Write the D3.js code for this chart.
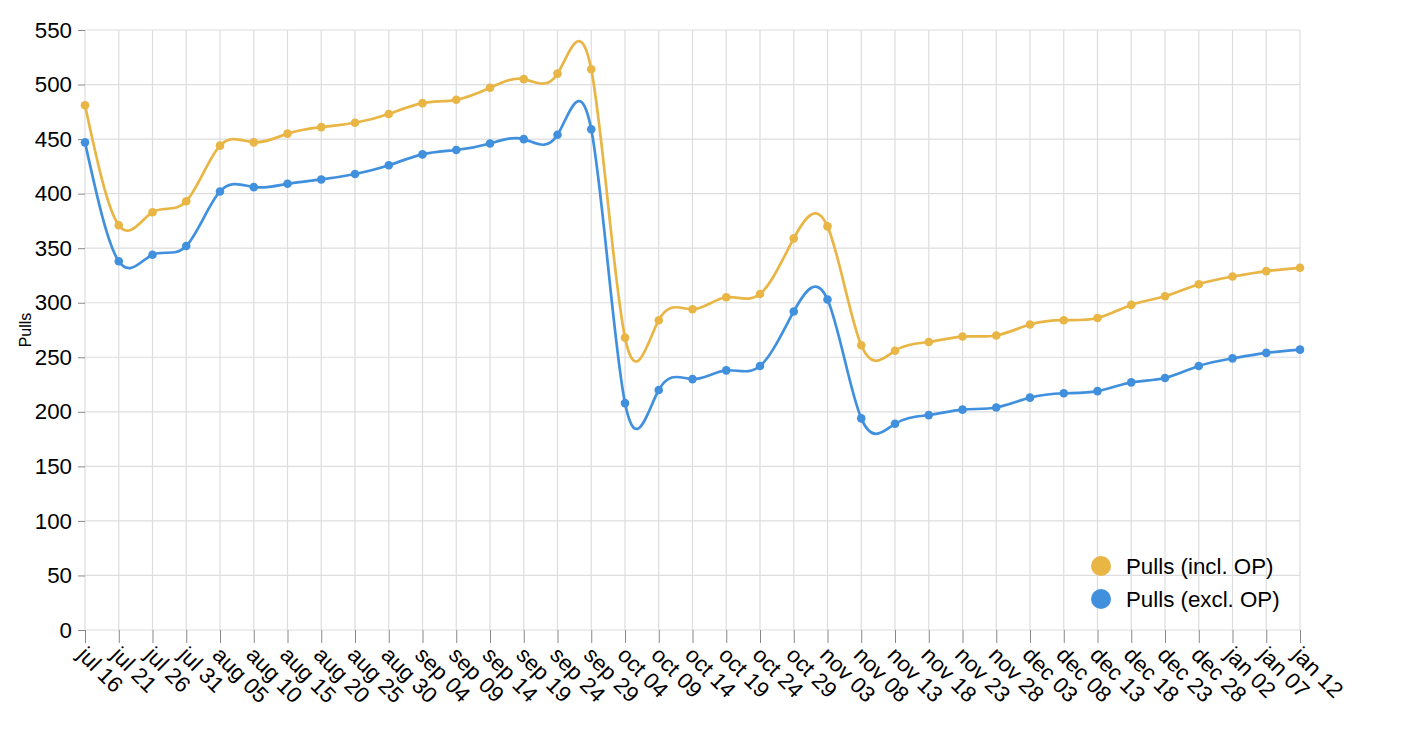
<!DOCTYPE html>
<html>
<head>
<meta charset="utf-8">
<script src="https://cdn.jsdelivr.net/npm/d3@7"></script>
<style>
  html, body { margin: 0; padding: 0; background: #fff; }
  svg { display: block; font-family: "Liberation Sans", Arial, sans-serif; }
</style>
</head>
<body>
<svg id="chart" width="1422" height="730"></svg>
<script>
const dates = ["jul 16","jul 21","jul 26","jul 31","aug 05","aug 10","aug 15","aug 20","aug 25","aug 30",
  "sep 04","sep 09","sep 14","sep 19","sep 24","sep 29","oct 04","oct 09","oct 14","oct 19","oct 24","oct 29",
  "nov 03","nov 08","nov 13","nov 18","nov 23","nov 28","dec 03","dec 08","dec 13","dec 18","dec 23","dec 28",
  "jan 02","jan 07","jan 12"];
const pullsInclOP = [481,371,383,393,444,447,455,461,465,473,483,486,497,505,510,514,268,284,294,305,308,359,
  370,261,256,264,269,270,280,284,286,298,306,317,324,329,332];
const pullsExclOP = [447,338,344,352,402,406,409,413,418,426,436,440,446,450,454,459,208,220,230,238,242,292,
  303,194,189,197,202,204,213,217,219,227,231,242,249,254,257];
const yTicks = [0,50,100,150,200,250,300,350,400,450,500,550];
const seriesNames = ["Pulls (incl. OP)", "Pulls (excl. OP)"];
const seriesColors = ["#E9B545", "#4190DE"];

const svg = d3.select("#chart");
const mLeft = 85, mRight = 1300, mTop = 30, mBottom = 630;
const fs = 22.3;

const x = d3.scalePoint().domain(dates).range([mLeft, mRight]).padding(0);
const y = d3.scaleLinear().domain([0, 550]).range([mBottom, mTop]);

// grid
const grid = svg.append("g");
grid.selectAll("line.h").data(yTicks).join("line")
  .attr("x1", mLeft).attr("x2", mRight)
  .attr("y1", d => y(d)).attr("y2", d => y(d))
  .attr("stroke", "#dddddd").attr("stroke-width", 1.2);
grid.selectAll("line.v").data(dates).join("line")
  .attr("x1", d => x(d)).attr("x2", d => x(d))
  .attr("y1", mTop).attr("y2", mBottom)
  .attr("stroke", "#dddddd").attr("stroke-width", 1.2);

// y axis
const yAxis = svg.append("g").attr("transform", `translate(${mLeft},0)`)
  .call(d3.axisLeft(y).tickValues(yTicks).tickSize(7).tickPadding(6));
yAxis.select(".domain").remove();
yAxis.selectAll(".tick line").attr("stroke", "#888");
yAxis.selectAll(".tick text").attr("font-size", fs).attr("fill", "#000")
  .attr("font-family", "Liberation Sans, Arial, sans-serif");

// x axis
const xAxis = svg.append("g").attr("transform", `translate(0,${mBottom})`)
  .call(d3.axisBottom(x).tickSize(13).tickPadding(0));
xAxis.select(".domain").remove();
xAxis.selectAll(".tick line").attr("stroke", "#888");
xAxis.selectAll(".tick text")
  .attr("font-size", fs).attr("fill", "#000")
  .attr("font-family", "Liberation Sans, Arial, sans-serif")
  .attr("text-anchor", "start")
  .attr("y", 0).attr("dy", "0.72em")
  .attr("transform", "translate(2,15) rotate(45)");

// y title
svg.append("text")
  .attr("transform", "translate(31,330) rotate(-90)")
  .attr("text-anchor", "middle")
  .attr("font-size", 16).attr("fill", "#000")
  .text("Pulls");

// lines
const series = [pullsInclOP, pullsExclOP];
const line = d3.line().x((d, i) => x(dates[i])).y(d => y(d)).curve(d3.curveNatural);
series.forEach((vals, si) => {
  svg.append("path").datum(vals)
    .attr("d", line).attr("fill", "none")
    .attr("stroke", seriesColors[si]).attr("stroke-width", 2.7);
  svg.append("g").selectAll("circle").data(vals).join("circle")
    .attr("cx", (d, i) => x(dates[i])).attr("cy", d => y(d))
    .attr("r", 4.3).attr("fill", seriesColors[si]);
});

// legend
const legend = svg.append("g").attr("transform", "translate(1101,566)");
seriesNames.forEach((name, i) => {
  const g = legend.append("g").attr("transform", `translate(0,${i * 33})`);
  g.append("circle").attr("r", 10).attr("fill", seriesColors[i]);
  g.append("text").attr("x", 25).attr("dy", "0.35em")
    .attr("font-size", fs).attr("fill", "#000").text(name);
});
</script>
</body>
</html>
